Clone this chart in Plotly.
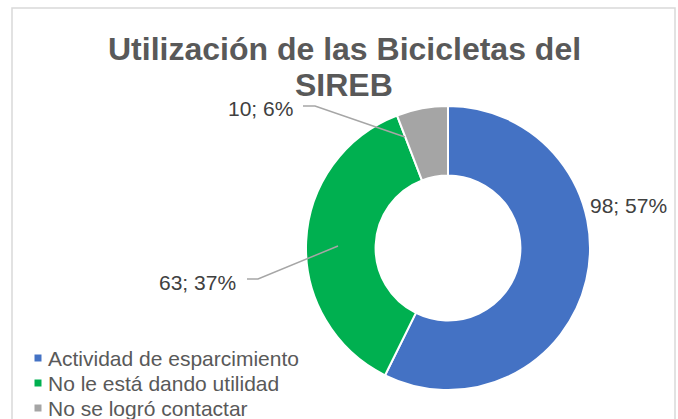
import plotly.graph_objects as go

categories = ["Actividad de esparcimiento", "No le está dando utilidad", "No se logró contactar"]
values = [98, 63, 10]
colors = ["#4472C4", "#00B050", "#A5A5A5"]
title_lines = ["Utilización de las Bicicletas del", "SIREB"]

W, H = 678, 419


def px(x):
    return x / W


def py(y):
    return 1 - y / H


total = sum(values)
label_texts = [f"{v}; {round(100 * v / total)}%" for v in values]

fig = go.Figure(
    go.Pie(
        labels=categories,
        values=values,
        hole=0.51,
        sort=False,
        direction="clockwise",
        rotation=0,
        textinfo="none",
        hoverinfo="label+value+percent",
        marker=dict(colors=colors, line=dict(color="white", width=2)),
        domain=dict(x=[px(306), px(590)], y=[py(390), py(106)]),
        showlegend=False,
    )
)

FONT = "Liberation Sans, Arial"

label_pos = [
    dict(x=588, y=205, xanchor="left"),
    dict(x=238, y=282, xanchor="right"),
    dict(x=295, y=109, xanchor="right"),
]
annotations = []
for t, p in zip(label_texts, label_pos):
    annotations.append(
        dict(
            text=t, x=px(p["x"]), y=py(p["y"]), xref="paper", yref="paper",
            xanchor=p["xanchor"], yanchor="middle", showarrow=False,
            font=dict(family=FONT, size=21, color="#404040"),
        )
    )

for line, yy in zip(title_lines, [49, 85]):
    annotations.append(
        dict(
            text=f"<b>{line}</b>", x=px(344), y=py(yy), xref="paper", yref="paper",
            xanchor="center", yanchor="middle", showarrow=False,
            font=dict(family=FONT, size=32, color="#595959"),
        )
    )

shapes = [
    dict(type="rect", xref="paper", yref="paper", x0=px(12), x1=px(675), y0=py(430), y1=py(8),
         line=dict(color="#D9D9D9", width=1.5), fillcolor="rgba(0,0,0,0)", layer="below"),
    dict(type="path", xref="paper", yref="paper",
         path=f"M {px(303)},{py(106)} L {px(315)},{py(106)} L {px(405)},{py(137)}",
         line=dict(color="#A6A6A6", width=1.5)),
    dict(type="path", xref="paper", yref="paper",
         path=f"M {px(247)},{py(279)} L {px(258)},{py(279)} L {px(338)},{py(246)}",
         line=dict(color="#A6A6A6", width=1.5)),
]

# legend (bottom-left): colour square + category name per row
legend_rows_y = [358, 383, 408]
for cat, col, ry in zip(categories, colors, legend_rows_y):
    shapes.append(
        dict(type="rect", xref="paper", yref="paper",
             x0=px(34.5), x1=px(41.5), y0=py(ry + 3.5), y1=py(ry - 3.5),
             fillcolor=col, line=dict(width=0))
    )
    annotations.append(
        dict(
            text=cat, x=px(46), y=py(ry), xref="paper", yref="paper",
            xanchor="left", yanchor="middle", showarrow=False,
            font=dict(family=FONT, size=21, color="#595959"),
        )
    )

fig.update_layout(
    width=W, height=H,
    margin=dict(l=0, r=0, t=0, b=0, pad=0, autoexpand=False),
    paper_bgcolor="white",
    plot_bgcolor="white",
    showlegend=False,
    annotations=annotations,
    shapes=shapes,
)

fig.write_html(
    "out.html",
    config={"displayModeBar": False},
    post_script="document.body.style.margin='0';",
)
